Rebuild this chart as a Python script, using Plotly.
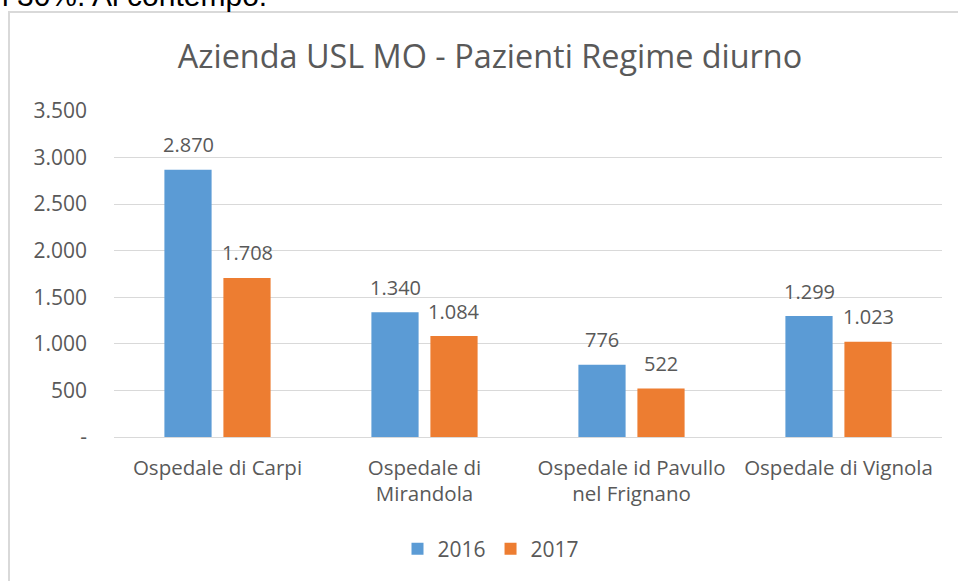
import plotly.graph_objects as go

categories = ["Ospedale di Carpi", "Ospedale di<br>Mirandola", "Ospedale id Pavullo<br>nel Frignano", "Ospedale di Vignola"]
values_2016 = [2870, 1340, 776, 1299]
values_2017 = [1708, 1084, 522, 1023]
series_names = ["2016", "2017"]
series_colors = ["#5B9BD5", "#ED7D31"]
tick_vals = [0, 500, 1000, 1500, 2000, 2500, 3000, 3500]
tick_text = ["-", "500", "1.000", "1.500", "2.000", "2.500", "3.000", "3.500"]

def fmt(v):
    return f"{v:,}".replace(",", ".")

W, H = 958, 581
L, R, T, B = 114, 16, 111, 144
pw, ph = W - L - R, H - T - B

FONT = "Open Sans"
GREY = "#595959"

fig = go.Figure()
all_series = [values_2016, values_2017]
for j, (name, vals, col) in enumerate(zip(series_names, all_series, series_colors)):
    fig.add_trace(go.Bar(
        x=categories, y=vals, name=name, marker=dict(color=col, line=dict(width=0)),
        hoverinfo="x+y+name",
    ))
    # data labels placed via axes (category + value) with a fixed pixel offset
    for c, v in zip(categories, vals):
        fig.add_annotation(x=c, y=v, xref="x", yref="y", text=fmt(v), showarrow=False,
                           xshift=(-29.5 if j == 0 else 29.5), yshift=25, yanchor="middle",
                           font=dict(family=FONT, size=20, color=GREY))

fig.update_layout(
    width=W, height=H,
    margin=dict(l=L, r=R, t=T, b=B, pad=0),
    paper_bgcolor="white", plot_bgcolor="white",
    barmode="group", bargap=0.43, bargroupgap=0.2,
    font=dict(family=FONT, color=GREY),
    title=dict(text="Azienda USL MO - Pazienti Regime diurno", x=490 / W, xref="container", xanchor="center",
               y=1 - 57 / H, yanchor="middle", font=dict(family=FONT, size=32.4, color=GREY)),
    xaxis=dict(showgrid=False, showline=True, linecolor="#D9D9D9", linewidth=1, ticks="",
               tickfont=dict(family=FONT, size=20.5, color=GREY), ticklabelstandoff=12, fixedrange=True),
    yaxis=dict(range=[0, 3500], tickvals=tick_vals, ticktext=tick_text, showgrid=True,
               gridcolor="#D9D9D9", gridwidth=1, zeroline=False, showline=False,
               tickfont=dict(family=FONT, size=21, color=GREY), ticklabelstandoff=26, fixedrange=True),
    legend=dict(orientation="h", x=0.5 + 12 / W, xanchor="center", xref="container", y=1 - 549 / H, yref="container", yanchor="middle",
                font=dict(family=FONT, size=21, color=GREY), itemwidth=30, traceorder="normal"),
    showlegend=True,
)

# chart border (Excel chart area)
fig.add_shape(type="rect", xref="paper", yref="paper",
              x0=(9 - L) / pw, x1=(W + 20 - L) / pw,
              y0=-(H + 20 - T - ph) / ph, y1=1 + (T - 12) / ph,
              line=dict(color="#D9D9D9", width=2), fillcolor="rgba(0,0,0,0)", layer="below")

# cropped text from the surrounding document
fig.add_annotation(text="i 30%. Al contempo.", xref="paper", yref="paper",
                   x=(0 - L) / pw, xanchor="left", y=1 + (T - 14) / ph, yanchor="bottom",
                   showarrow=False, font=dict(family="Liberation Sans", size=30, color="#000000"))

fig.write_html("out.html", config={"displayModeBar": False},
               post_script="document.body.style.margin='0';document.body.style.overflow='hidden';")
